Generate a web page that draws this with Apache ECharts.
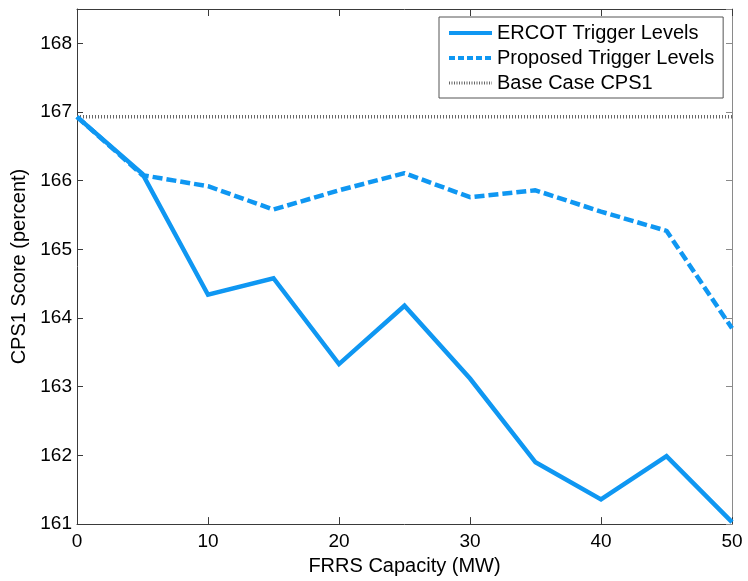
<!DOCTYPE html>
<html>
<head>
<meta charset="utf-8">
<script src="https://cdn.jsdelivr.net/npm/echarts@6/dist/echarts.min.js"></script>
<style>
  html, body { margin: 0; padding: 0; background: #fff; }
  #chart { width: 748px; height: 581px; }
</style>
</head>
<body>
<div id="chart"></div>
<script>
// FRRS capacity steps (MW)
const capacity = [0, 5, 10, 15, 20, 25, 30, 35, 40, 45, 50];
// CPS1 score (percent) with ERCOT trigger levels
const ercotScores = [166.93, 166.10, 164.34, 164.58, 163.33, 164.18, 163.12, 161.90, 161.36, 161.99, 161.03];
// CPS1 score (percent) with the proposed trigger levels
const proposedScores = [166.93, 166.08, 165.92, 165.58, 165.86, 166.11, 165.76, 165.86, 165.55, 165.27, 163.85];
// Base case CPS1 score (percent), flat over the whole range
const baseCaseScore = 166.93;
const yTicks = [161, 162, 163, 164, 165, 166, 167, 168];

const seriesNames = ['ERCOT Trigger Levels', 'Proposed Trigger Levels', 'Base Case CPS1'];

const FONT = "'Liberation Sans', Arial, Helvetica, sans-serif";
const BLUE = '#0f97f2';
const AXIS = '#3a3a3a';

const pairs = ys => capacity.map((x, i) => [x, ys[i]]);

const chart = echarts.init(document.getElementById('chart'), null, { renderer: 'canvas' });

const yLabel = v => (yTicks.indexOf(Math.round(v * 1000) / 1000) >= 0 ? String(v) : '');

chart.setOption({
  backgroundColor: '#ffffff',
  animation: false,
  textStyle: { fontFamily: FONT, color: '#000' },
  grid: { left: 77, right: 16, top: 9, bottom: 56, containLabel: false },
  legend: {
    data: [
      { name: seriesNames[0], lineStyle: { width: 4 } },
      { name: seriesNames[1], lineStyle: { width: 4, type: [6, 3] } },
      { name: seriesNames[2], lineStyle: { width: 3, type: [1, 1.5] } }
    ],
    orient: 'vertical',
    left: 439,
    top: 17,
    itemWidth: 43,
    itemHeight: 14,
    itemGap: 5,
    padding: [6, 9, 5, 8],
    borderColor: '#555',
    borderWidth: 1,
    backgroundColor: '#fff',
    itemStyle: { opacity: 0 },
    textStyle: { fontFamily: FONT, fontSize: 20, color: '#000', padding: [0, 0, 0, 0] },
    selectedMode: false
  },
  xAxis: [
    {
      type: 'value', min: 0, max: 50, interval: 10,
      name: 'FRRS Capacity (MW)', nameLocation: 'middle', nameGap: 26,
      nameTextStyle: { fontFamily: FONT, fontSize: 20, color: '#000' },
      axisLine: { show: true, onZero: false, lineStyle: { color: AXIS, width: 1 } },
      axisTick: { show: true, inside: true, length: 7, lineStyle: { color: AXIS } },
      axisLabel: { fontFamily: FONT, fontSize: 19, color: '#000', margin: 8 },
      splitLine: { show: false }
    },
    {
      type: 'value', min: 0, max: 50, interval: 10, position: 'top',
      axisLine: { show: true, onZero: false, lineStyle: { color: AXIS, width: 1 } },
      axisTick: { show: true, inside: true, length: 7, lineStyle: { color: AXIS } },
      axisLabel: { show: false },
      splitLine: { show: false }
    }
  ],
  yAxis: [
    {
      type: 'value', min: 161, max: 168.5, interval: 1,
      name: 'CPS1 Score (percent)', nameLocation: 'middle', nameGap: 45,
      nameTextStyle: { fontFamily: FONT, fontSize: 20, color: '#000' },
      axisLine: { show: true, onZero: false, lineStyle: { color: AXIS, width: 1 } },
      axisTick: { show: true, inside: true, length: 6, lineStyle: { color: AXIS } },
      axisLabel: { fontFamily: FONT, fontSize: 19, color: '#000', margin: 5, formatter: yLabel, showMaxLabel: false },
      splitLine: { show: false }
    },
    {
      type: 'value', min: 161, max: 168.5, interval: 1, position: 'right',
      axisLine: { show: true, onZero: false, lineStyle: { color: '#8a8a8a', width: 1 } },
      axisTick: { show: true, inside: true, length: 6, lineStyle: { color: '#8a8a8a' } },
      axisLabel: { show: false },
      splitLine: { show: false }
    }
  ],
  series: [
    {
      name: seriesNames[0], type: 'line', data: pairs(ercotScores),
      symbol: 'none', lineStyle: { color: BLUE, width: 4.5, join: 'miter' },
      itemStyle: { color: BLUE }, z: 3
    },
    {
      name: seriesNames[1], type: 'line', data: pairs(proposedScores),
      symbol: 'none', lineStyle: { color: BLUE, width: 4.5, type: [10, 4], cap: 'butt' },
      itemStyle: { color: BLUE }, z: 2
    },
    {
      name: seriesNames[2], type: 'line',
      data: [[capacity[0], baseCaseScore], [capacity[capacity.length - 1], baseCaseScore]],
      symbol: 'none', lineStyle: { color: '#666', width: 3.5, type: [1, 2], cap: 'butt' },
      itemStyle: { color: '#666' }, z: 1
    }
  ]
});
</script>
</body>
</html>
